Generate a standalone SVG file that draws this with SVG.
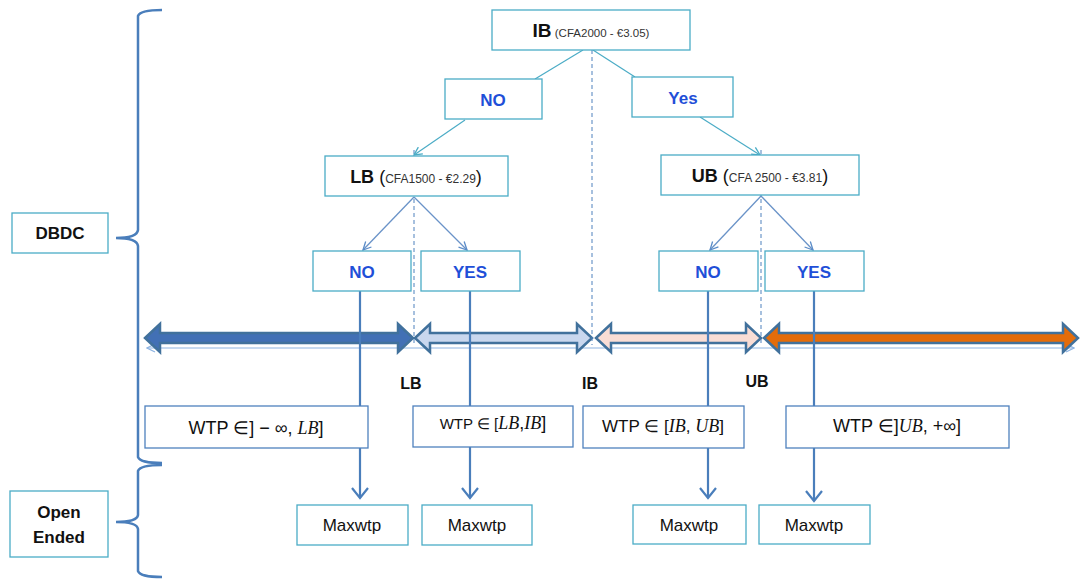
<svg xmlns="http://www.w3.org/2000/svg" width="1080" height="581" viewBox="0 0 1080 581">
<defs>
<style>
.box{fill:#fff;stroke:#4BACC6;stroke-width:1.3}
.wbox{fill:#fff;stroke:#4F81BD;stroke-width:1.3}
.t{font-family:"Liberation Sans",Arial,sans-serif;fill:#111}
.b{font-weight:bold}
.blue{font-family:"Liberation Sans",Arial,sans-serif;font-weight:bold;fill:#1F4FD8;font-size:17px}
.m{font-family:"Liberation Serif","DejaVu Serif",serif;font-style:italic}
.teal{stroke:#4BACC6;stroke-width:1.2;fill:none}
.steel{stroke:#6A93C8;stroke-width:1.3;fill:none}
.dash{stroke:#4F81BD;stroke-width:1;stroke-dasharray:4 3;fill:none}
.vline{stroke:#4A7EBB;stroke-width:2.2;fill:none}
.brace{stroke:#4A7EBB;stroke-width:2.5;fill:none}
.dbl{stroke:#41719C;stroke-width:2.5;stroke-linejoin:miter}
</style>
<marker id="oa" viewBox="0 0 10 10" refX="9" refY="5" markerWidth="10" markerHeight="10" markerUnits="userSpaceOnUse" orient="auto"><path d="M1,1 L9,5 L1,9" fill="none" stroke="#5B8CC8" stroke-width="1.3"/></marker>
<marker id="ot" viewBox="0 0 10 10" refX="9" refY="5" markerWidth="10" markerHeight="10" markerUnits="userSpaceOnUse" orient="auto"><path d="M1,1 L9,5 L1,9" fill="none" stroke="#4BACC6" stroke-width="1.3"/></marker>
<marker id="va" viewBox="0 0 20 20" refX="18" refY="10" markerWidth="20" markerHeight="20" markerUnits="userSpaceOnUse" orient="auto"><path d="M8,2 L18,10 L8,18" fill="none" stroke="#4A7EBB" stroke-width="2.2"/></marker>
<marker id="thin" viewBox="0 0 10 10" refX="9" refY="5" markerWidth="10" markerHeight="10" markerUnits="userSpaceOnUse" orient="auto-start-reverse"><path d="M1,1 L9,5 L1,9" fill="none" stroke="#8DB3E2" stroke-width="1.2"/></marker>
</defs>

<g id="braces">
<path class="brace" d="M162,10 Q140,10 138,16 L138,230 Q137,238 116,238 Q137,238 138,246 L138,457 Q140,463 162,463"/>
<path class="brace" d="M162,465 Q140,465 138,471 L138,515 Q137,522 116,522 Q137,522 138,529 L138,571 Q140,577 162,577"/>
</g>

<g id="axis">
<line x1="147" y1="348" x2="1074" y2="348" stroke="#8DB3E2" stroke-width="1.2" marker-start="url(#thin)" marker-end="url(#thin)"/>
<polygon class="dbl" fill="#4270B5" points="145,338 160,324 160,333 398,333 398,324 413,338 398,352 398,343 160,343 160,352"/>
<polygon class="dbl" fill="#C9D7EE" points="415,338 430,324 430,333 577,333 577,324 592,338 577,352 577,343 430,343 430,352"/>
<polygon class="dbl" fill="#F9DDD5" points="596,338 611,324 611,333 746,333 746,324 761,338 746,352 746,343 611,343 611,352"/>
<polygon class="dbl" fill="#E46C0A" points="764,338 779,324 779,333 1063,333 1063,324 1078,338 1063,352 1063,343 779,343 779,352"/>
<text class="t b" x="411" y="389" font-size="16" text-anchor="middle">LB</text>
<text class="t b" x="590" y="389" font-size="16" text-anchor="middle">IB</text>
<text class="t b" x="757" y="387" font-size="16" text-anchor="middle">UB</text>
</g>

<g id="connectors">
<line class="dash" x1="592" y1="50" x2="592" y2="345"/>
<line class="dash" x1="414" y1="150" x2="414" y2="345"/>
<line class="dash" x1="761" y1="150" x2="761" y2="345"/>
<line class="teal" x1="583" y1="50" x2="535" y2="79"/>
<line class="teal" x1="593" y1="50" x2="635" y2="77"/>
<line class="teal" x1="465" y1="120" x2="414" y2="155" marker-end="url(#ot)"/>
<line class="teal" x1="700" y1="117" x2="760" y2="155" marker-end="url(#ot)"/>
<line class="steel" x1="414" y1="197" x2="363" y2="250" marker-end="url(#oa)"/>
<line class="steel" x1="414" y1="197" x2="467" y2="250" marker-end="url(#oa)"/>
<line class="steel" x1="761" y1="196" x2="710" y2="250" marker-end="url(#oa)"/>
<line class="steel" x1="761" y1="196" x2="813" y2="250" marker-end="url(#oa)"/>
<line class="vline" x1="360" y1="291" x2="360" y2="498" marker-end="url(#va)"/>
<line class="vline" x1="470" y1="291" x2="470" y2="498" marker-end="url(#va)"/>
<line class="vline" x1="708" y1="291" x2="708" y2="498" marker-end="url(#va)"/>
<line class="vline" x1="814" y1="291" x2="814" y2="501" marker-end="url(#va)"/>
</g>

<g id="dbdc"><rect class="box" x="12" y="213" width="96" height="40"/><text class="t b" x="60" y="239" font-size="17" text-anchor="middle">DBDC</text></g>
<g id="open-ended"><rect class="box" x="10" y="491" width="98" height="66"/><text class="t b" x="59" y="518" font-size="17" text-anchor="middle">Open</text><text class="t b" x="59" y="543" font-size="17" text-anchor="middle">Ended</text></g>

<g id="ib"><rect class="box" x="492" y="10" width="198" height="40"/><text class="t" x="591" y="37" text-anchor="middle"><tspan class="b" font-size="19">IB</tspan><tspan font-size="11.5" fill="#333"> (CFA2000 - €3.05)</tspan></text></g>
<g id="no1"><rect class="box" x="445" y="79" width="97" height="40"/><text class="blue" x="493" y="106" text-anchor="middle">NO</text></g>
<g id="yes1"><rect class="box" x="632" y="77" width="101" height="40"/><text class="blue" x="683" y="104" text-anchor="middle">Yes</text></g>
<g id="lb"><rect class="box" x="325" y="156" width="183" height="40"/><text class="t" x="416" y="183" text-anchor="middle"><tspan class="b" font-size="18">LB</tspan><tspan font-size="18"> (</tspan><tspan font-size="12" fill="#333">CFA1500 - €2.29</tspan><tspan font-size="18">)</tspan></text></g>
<g id="ub"><rect class="box" x="661" y="155" width="198" height="40"/><text class="t" x="760" y="182" text-anchor="middle"><tspan class="b" font-size="18">UB</tspan><tspan font-size="18"> (</tspan><tspan font-size="12" fill="#333">CFA 2500 - €3.81</tspan><tspan font-size="18">)</tspan></text></g>
<g id="no2"><rect class="box" x="313" y="251" width="98" height="40"/><text class="blue" x="362" y="278" text-anchor="middle">NO</text></g>
<g id="yes2"><rect class="box" x="421" y="251" width="99" height="40"/><text class="blue" x="470" y="278" text-anchor="middle">YES</text></g>
<g id="no3"><rect class="box" x="659" y="251" width="99" height="40"/><text class="blue" x="708" y="278" text-anchor="middle">NO</text></g>
<g id="yes3"><rect class="box" x="765" y="251" width="99" height="40"/><text class="blue" x="814" y="278" text-anchor="middle">YES</text></g>

<g id="wtp1"><rect class="wbox" x="145" y="406" width="223" height="42"/><text class="t" x="256" y="434" font-size="18" text-anchor="middle">WTP ∈] − ∞, <tspan class="m">LB</tspan>]</text></g>
<g id="wtp2"><rect class="wbox" x="413" y="406" width="160" height="41"/><text class="t" x="493" y="429" font-size="15" text-anchor="middle">WTP ∈ [<tspan class="m" font-size="18">LB</tspan><tspan font-size="18">,</tspan><tspan class="m" font-size="18">IB</tspan><tspan font-size="18">]</tspan></text></g>
<g id="wtp3"><rect class="wbox" x="583" y="406" width="161" height="42"/><text class="t" x="663" y="432" font-size="17" text-anchor="middle">WTP ∈ [<tspan class="m" font-size="18">IB</tspan>, <tspan class="m" font-size="18">UB</tspan>]</text></g>
<g id="wtp4"><rect class="wbox" x="786" y="406" width="223" height="42"/><text class="t" x="897" y="432" font-size="18" text-anchor="middle">WTP ∈]<tspan class="m">UB</tspan>, +∞]</text></g>

<g id="max1"><rect class="box" x="297" y="505" width="111" height="40"/><text class="t" x="352" y="531" font-size="17" text-anchor="middle">Maxwtp</text></g>
<g id="max2"><rect class="box" x="422" y="505" width="110" height="40"/><text class="t" x="477" y="531" font-size="17" text-anchor="middle">Maxwtp</text></g>
<g id="max3"><rect class="box" x="633" y="505" width="113" height="39"/><text class="t" x="689" y="531" font-size="17" text-anchor="middle">Maxwtp</text></g>
<g id="max4"><rect class="box" x="759" y="505" width="111" height="39"/><text class="t" x="814" y="531" font-size="17" text-anchor="middle">Maxwtp</text></g>
</svg>
